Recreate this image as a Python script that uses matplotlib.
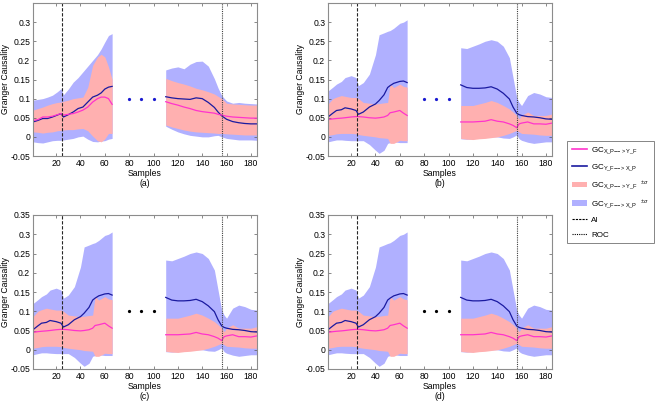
import numpy as np
import matplotlib
matplotlib.use("Agg")
import matplotlib.pyplot as plt
from matplotlib.lines import Line2D
from matplotlib.patches import Patch

plt.rcParams["font.family"] = ["Liberation Sans", "DejaVu Sans"]
plt.rcParams["mathtext.fontset"] = "custom"
plt.rcParams["mathtext.rm"] = "Liberation Sans"
plt.rcParams["mathtext.it"] = "Liberation Sans:italic"
plt.rcParams["axes.unicode_minus"] = False

# ------------------------------------------------------------------ #
# Data (two segments: early window, late window)
# ------------------------------------------------------------------ #
# panel (a)
A_X1 = [1, 5, 9, 13, 17, 21, 24, 26, 30, 34, 38, 42, 46, 50, 54, 57, 60, 63, 66]
A_BLUE_MEAN1 = [0.039, 0.043, 0.048, 0.048, 0.052, 0.057, 0.061, 0.052, 0.058, 0.065,
                0.074, 0.078, 0.091, 0.104, 0.109, 0.115, 0.125, 0.130, 0.132]
A_PINK_MEAN1 = [0.043, 0.045, 0.052, 0.052, 0.054, 0.058, 0.061, 0.057, 0.059, 0.061,
                0.065, 0.070, 0.078, 0.091, 0.100, 0.104, 0.104, 0.100, 0.085]
A_BLUE_UP1 = [0.096, 0.098, 0.100, 0.104, 0.109, 0.118, 0.126, 0.110, 0.125, 0.143,
              0.155, 0.170, 0.185, 0.200, 0.215, 0.230, 0.248, 0.265, 0.270]
A_BLUE_LO1 = [-0.013, -0.015, -0.016, -0.013, -0.010, -0.009, -0.009, -0.008, -0.006, -0.004,
              0.000, 0.002, -0.006, -0.012, -0.013, -0.011, -0.010, -0.006, -0.004]
A_PINK_UP1 = [0.070, 0.074, 0.078, 0.083, 0.087, 0.090, 0.091, 0.093, 0.096, 0.100,
              0.102, 0.104, 0.130, 0.187, 0.209, 0.216, 0.209, 0.183, 0.150]
A_PINK_LO1 = [0.013, 0.012, 0.010, 0.012, 0.013, 0.016, 0.017, 0.018, 0.019, 0.019,
              0.021, 0.022, 0.016, 0.002, -0.010, -0.013, -0.005, 0.009, 0.009]

A_X2 = [110, 115, 120, 125, 130, 135, 140, 145, 150, 153, 156, 160, 165, 170, 175, 180, 185]
A_BLUE_MEAN2 = [0.105, 0.102, 0.100, 0.099, 0.098, 0.102, 0.100, 0.090, 0.077, 0.065,
                0.055, 0.046, 0.040, 0.037, 0.035, 0.034, 0.034]
A_PINK_MEAN2 = [0.092, 0.087, 0.083, 0.078, 0.074, 0.069, 0.066, 0.064, 0.062, 0.059,
                0.057, 0.054, 0.052, 0.051, 0.050, 0.049, 0.049]
A_BLUE_UP2 = [0.175, 0.180, 0.183, 0.178, 0.190, 0.197, 0.198, 0.185, 0.152, 0.128,
              0.108, 0.094, 0.088, 0.090, 0.088, 0.087, 0.086]
A_BLUE_LO2 = [0.028, 0.020, 0.013, 0.008, 0.004, 0.002, 0.000, 0.000, 0.003, 0.004,
              0.000, -0.004, -0.006, -0.008, -0.008, -0.008, -0.009]
A_PINK_UP2 = [0.153, 0.147, 0.142, 0.138, 0.133, 0.127, 0.123, 0.118, 0.112, 0.106,
              0.100, 0.088, 0.086, 0.085, 0.084, 0.083, 0.083]
A_PINK_LO2 = [0.031, 0.026, 0.022, 0.018, 0.015, 0.013, 0.012, 0.011, 0.010, 0.009,
              0.009, 0.008, 0.007, 0.006, 0.005, 0.005, 0.005]

# panels (b), (c), (d) show the same curves
B_X1 = [1, 5, 8, 12, 15, 20, 24, 26, 30, 35, 40, 43, 47, 50, 52, 55, 60, 63, 66]
B_BLUE_MEAN1 = [0.052, 0.062, 0.069, 0.071, 0.076, 0.073, 0.069, 0.059, 0.065, 0.078,
                0.086, 0.095, 0.110, 0.129, 0.134, 0.140, 0.145, 0.146, 0.142]
B_PINK_MEAN1 = [0.045, 0.047, 0.048, 0.049, 0.050, 0.052, 0.053, 0.053, 0.052, 0.050,
                0.049, 0.050, 0.052, 0.056, 0.063, 0.065, 0.069, 0.062, 0.056]
B_BLUE_UP1 = [0.120, 0.130, 0.138, 0.145, 0.155, 0.160, 0.155, 0.134, 0.142, 0.164,
              0.215, 0.267, 0.272, 0.276, 0.278, 0.284, 0.297, 0.300, 0.306]
B_BLUE_LO1 = [-0.013, -0.010, -0.008, -0.008, -0.009, -0.010, -0.010, -0.010, -0.010, -0.020,
              -0.035, -0.043, -0.035, -0.017, -0.015, -0.013, -0.015, -0.015, -0.015]
B_PINK_UP1 = [0.086, 0.100, 0.104, 0.108, 0.106, 0.103, 0.103, 0.100, 0.090, 0.088,
              0.086, 0.087, 0.089, 0.090, 0.138, 0.129, 0.138, 0.132, 0.130]
B_PINK_LO1 = [0.004, 0.006, 0.008, 0.009, 0.009, 0.009, 0.008, 0.006, 0.004, 0.002,
              0.000, -0.002, -0.003, -0.004, -0.017, -0.017, -0.009, -0.010, -0.010]

B_X2 = [110, 115, 120, 125, 130, 135, 140, 145, 150, 153, 156, 158, 160, 165, 170, 175, 180, 185]
B_BLUE_MEAN2 = [0.136, 0.129, 0.127, 0.127, 0.128, 0.131, 0.125, 0.114, 0.099, 0.078,
                0.062, 0.058, 0.056, 0.053, 0.052, 0.050, 0.047, 0.046]
B_PINK_MEAN2 = [0.039, 0.039, 0.039, 0.040, 0.041, 0.045, 0.041, 0.039, 0.034, 0.030,
                0.024, 0.034, 0.036, 0.039, 0.034, 0.034, 0.033, 0.036]
B_BLUE_UP2 = [0.233, 0.231, 0.237, 0.243, 0.250, 0.254, 0.250, 0.237, 0.207, 0.155,
              0.103, 0.090, 0.082, 0.108, 0.116, 0.112, 0.105, 0.103]
B_BLUE_LO2 = [-0.005, -0.006, -0.005, -0.003, 0.000, 0.000, 0.000, -0.003, -0.004, 0.000,
              0.005, -0.005, -0.009, -0.014, -0.017, -0.015, -0.013, -0.013]
B_PINK_UP2 = [0.082, 0.082, 0.082, 0.086, 0.090, 0.095, 0.090, 0.082, 0.073, 0.065,
              0.056, 0.047, 0.056, 0.065, 0.056, 0.056, 0.056, 0.060]
B_PINK_LO2 = [-0.004, -0.006, -0.007, -0.005, -0.004, -0.002, 0.000, 0.004, 0.009, 0.013,
              0.017, 0.013, 0.009, 0.008, 0.007, 0.005, 0.004, 0.004]

GAP_X = [80, 90, 100]
GAP_Y = [0.1, 0.1, 0.1]
AI_X = 25
ROC_X = 156

YTICKS = [-0.05, 0, 0.05, 0.1, 0.15, 0.2, 0.25, 0.3, 0.35]
YTICKLABELS = ["-0.05", "0", "0.05", "0.1", "0.15", "0.2", "0.25", "0.3", "0.35"]
XTICKS = [20, 40, 60, 80, 100, 120, 140, 160, 180]

PINK_LINE = "#FF33CC"
BLUE_LINE = "#1A1AA0"
PINK_FILL = "#FFB0B0"
BLUE_FILL = "#B0B0FF"
FS = 6.2

panel_a = dict(
    seg1=(A_X1, A_BLUE_MEAN1, A_PINK_MEAN1, A_BLUE_UP1, A_BLUE_LO1, A_PINK_UP1, A_PINK_LO1),
    seg2=(A_X2, A_BLUE_MEAN2, A_PINK_MEAN2, A_BLUE_UP2, A_BLUE_LO2, A_PINK_UP2, A_PINK_LO2),
)
panel_b = dict(
    seg1=(B_X1, B_BLUE_MEAN1, B_PINK_MEAN1, B_BLUE_UP1, B_BLUE_LO1, B_PINK_UP1, B_PINK_LO1),
    seg2=(B_X2, B_BLUE_MEAN2, B_PINK_MEAN2, B_BLUE_UP2, B_BLUE_LO2, B_PINK_UP2, B_PINK_LO2),
)

fig = plt.figure(figsize=(6.61, 4.01), dpi=100)

W = 224 / 661
panels = [
    ("(a)", panel_a, [33 / 661, 1 - 156 / 401, W, 153 / 401], "#1A1AD0", True),
    ("(b)", panel_b, [328 / 661, 1 - 156 / 401, W, 153 / 401], "#1A1AD0", True),
    ("(c)", panel_b, [33 / 661, 1 - 369 / 401, W, 154 / 401], "black", False),
    ("(d)", panel_b, [328 / 661, 1 - 369 / 401, W, 154 / 401], "black", False),
]

for tag, data, rect, dot_col, top_row in panels:
    ax = fig.add_axes(rect)
    for key in ("seg1", "seg2"):
        x, bm, pm, bu, bl, pu, pl = data[key]
        ax.fill_between(x, bl, bu, color=BLUE_FILL, linewidth=0)
        ax.fill_between(x, pl, pu, color=PINK_FILL, linewidth=0)
        ax.plot(x, bm, color=BLUE_LINE, linewidth=0.9)
        ax.plot(x, pm, color=PINK_LINE, linewidth=0.9)
    ax.plot(GAP_X, GAP_Y, linestyle="none", marker="o", markersize=1.3, color=dot_col)
    ax.axvline(AI_X, color="0.15", linestyle=(0, (3, 1.5)), linewidth=0.8)
    ax.axvline(ROC_X, color="0.25", linestyle=(0, (1, 1)), linewidth=0.8)

    ax.set_xlim(1, 185)
    ax.set_ylim(-0.05, 0.35)
    ax.set_xticks(XTICKS)
    ax.set_yticks(YTICKS)
    labels = list(YTICKLABELS)
    if top_row:
        labels[-1] = ""   # clipped at the top of the figure in the original
    ax.set_yticklabels(labels)
    ax.tick_params(direction="in", length=2.5, width=0.5, labelsize=FS, pad=2,
                   top=True, right=True, colors="0.35", labelcolor="black")
    for sp in ax.spines.values():
        sp.set_color("0.55")
        sp.set_linewidth(0.8)
    ax.set_xlabel("Samples\n" + tag, fontsize=FS, labelpad=1, linespacing=1.05)
    ax.set_ylabel("Granger Causality", fontsize=FS)
    ax.yaxis.set_label_coords(-0.102, 0.5)

sub1 = r"$_{\mathrm{X\_P{-}{-}{>}Y\_F}}$"
sub2 = r"$_{\mathrm{Y\_F{-}{-}{>}X\_P}}$"
handles = [
    Line2D([], [], color=PINK_LINE, linewidth=1.2),
    Line2D([], [], color=BLUE_LINE, linewidth=1.2),
    Patch(facecolor=PINK_FILL, edgecolor="none"),
    Patch(facecolor=BLUE_FILL, edgecolor="none"),
    Line2D([], [], color="black", linestyle=(0, (2, 1)), linewidth=0.8),
    Line2D([], [], color="black", linestyle=(0, (1, 1)), linewidth=0.8),
]
labels = [
    "GC" + sub1,
    "GC" + sub2,
    "GC" + sub1 + r"  $^{\pm\sigma}$",
    "GC" + sub2 + r"  $^{\pm\sigma}$",
    "AI",
    "ROC",
]
leg = fig.legend(handles, labels, loc="upper left", bbox_to_anchor=(567 / 661, 1 - 141 / 401),
                 fontsize=5.8, frameon=True, fancybox=False, handlelength=1.9,
                 labelspacing=0.85, borderpad=0.6, handletextpad=0.5, borderaxespad=0)
leg.get_frame().set_edgecolor("0.4")
leg.get_frame().set_linewidth(0.7)

plt.savefig("out.png", dpi=100)
